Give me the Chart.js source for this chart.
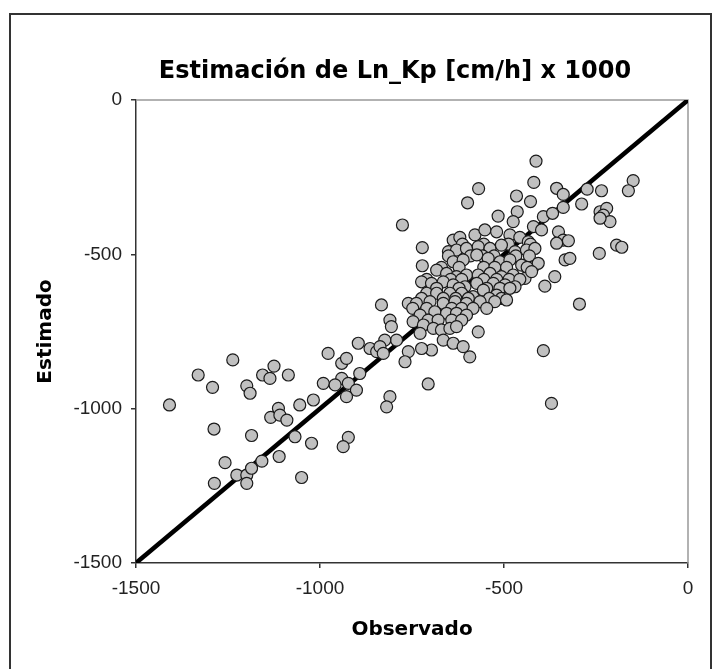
<!DOCTYPE html>
<html>
<head>
<meta charset="utf-8">
<script src="https://cdn.jsdelivr.net/npm/chart.js@4.4.1/dist/chart.umd.min.js"></script>
<style>
  html, body { margin: 0; padding: 0; background: #fff; }
  #wrap { width: 720px; height: 669px; }
</style>
</head>
<body>
<div id="wrap"><canvas id="myChart" width="720" height="669"></canvas></div>
<script>
const chartTitle = 'Estimación de Ln_Kp [cm/h] x 1000';
const xTitle = 'Observado';
const yTitle = 'Estimado';
const axisTicks = [-1500, -1000, -500, 0];

const observado = [
    -1409, -1331, -1292, -1237, -1288, -1199, -1190, -1156, -1136, -1125, -1186, -1134,
    -1113, -1109, -1090, -1258, -1226, -1199, -1186, -1158, -1287, -1199, -1111,
    -413, -419, -569, -599, -466, -428, -464, -357, -339, -274, -235, -289, -339, -149, -162,
    -776, -722, -722, -516, -475, -393, -368, -420, -398, -352, -339, -325, -357,
    -239, -221, -230, -212, -239, -241, -194, -180, -334, -321, -362, -389, -295, -393, -371,
    -638, -620, -579, -552, -520, -484, -457, -434,
    -613, -555, -488, -428,
    -651, -629, -602, -570, -538, -507, -470, -439, -416,
    -651, -591, -558, -527, -468, -431,
    -638, -611, -574, -543, -511, -484, -452, -420, -407,
    -670, -622, -555, -525, -493, -437,
    -683, -656, -629, -602, -570, -538, -507, -475, -443, -425,
    -710, -645, -615, -555, -520, -486, -457,
    -724, -697, -665, -638, -606, -574, -529, -497, -470,
    -683, -622, -547, -511, -484,
    -710, -683, -647, -615, -584, -556, -520,
    -724, -665, -631, -597, -540, -507,
    -760, -738, -701, -665, -633, -602, -565, -525, -493,
    -748, -710, -642, -615, -584, -547,
    -728, -688, -656, -629, -602,
    -706, -679, -642, -615,
    -747, -719, -692, -670, -647, -629, -570,
    -810, -806, -792, -824, -728, -665, -638, -611, -593, -697, -724, -760, -769, -833,
    -896, -864, -846, -837, -828, -978, -941, -928, -892, -941, -991, -959, -923, -901, -928,
    -706, -810, -819, -1055, -1018, -1086, -923, -937, -1023, -1068, -1050
];
const estimado = [
    -988, -891, -931, -842, -1066, -926, -950, -891, -902, -862, -1087, -1028,
    -999, -1021, -1037, -1175, -1215, -1215, -1193, -1170, -1242, -1242, -1155,
    -198, -267, -287, -333, -311, -329, -362, -286, -306, -289, -294, -337, -348, -261, -294,
    -405, -478, -537, -376, -394, -378, -367, -410, -421, -427, -454, -456, -464,
    -362, -351, -373, -394, -383, -497, -470, -477, -518, -513, -572, -603, -661, -812, -983,
    -454, -445, -437, -421, -427, -437, -445, -459,
    -467, -467, -467, -467,
    -491, -486, -481, -475, -481, -470, -491, -486, -481,
    -505, -505, -505, -505, -505, -505,
    -524, -518, -502, -513, -524, -518, -535, -540, -529,
    -542, -542, -542, -542, -542, -542,
    -551, -562, -572, -567, -567, -562, -572, -567, -578, -556,
    -581, -581, -581, -581, -581, -581, -581,
    -589, -594, -589, -599, -605, -594, -594, -599, -605,
    -610, -610, -610, -610, -610,
    -626, -626, -626, -626, -637, -616, -632,
    -643, -643, -643, -643, -643, -643,
    -659, -659, -653, -659, -653, -659, -653, -653, -648,
    -675, -675, -675, -675, -675, -675,
    -697, -686, -691, -691, -697,
    -713, -713, -713, -713,
    -718, -729, -740, -745, -740, -734, -751,
    -713, -734, -778, -778, -756, -778, -788, -799, -832, -810, -805, -815, -848, -664,
    -788, -805, -815, -799, -821, -821, -853, -837, -886, -902, -918, -923, -918, -940, -961,
    -920, -961, -994, -988, -972, -891, -1093, -1123, -1112, -1091, -1223
];
// 1:1 reference line
const lineX = [-1500, 0];
const lineY = [-1500, 0];

const points = observado.map((x, i) => ({ x: x, y: estimado[i] }));
const diagonal = lineX.map((x, i) => ({ x: x, y: lineY[i] }));

const tickFont = { family: '"Liberation Sans", Arial, sans-serif', size: 19 };
const titleFont = { family: '"DejaVu Sans", sans-serif', size: 20, weight: 'bold' };

const framePlugin = {
    id: 'frame',
    beforeDraw(chart) {
        const ctx = chart.ctx;
        ctx.save();
        ctx.fillStyle = '#fff';
        ctx.fillRect(0, 0, chart.width, chart.height);
        ctx.strokeStyle = '#333';
        ctx.lineWidth = 2;
        ctx.strokeRect(10, 14, 701, 720);
        ctx.restore();
    },
    beforeDatasetsDraw(chart) {
        const { ctx, chartArea } = chart;
        ctx.save();
        ctx.strokeStyle = '#999';
        ctx.lineWidth = 1.5;
        ctx.beginPath();
        ctx.moveTo(chartArea.left, chartArea.top);
        ctx.lineTo(chartArea.right, chartArea.top);
        ctx.lineTo(chartArea.right, chartArea.bottom);
        ctx.stroke();
        ctx.restore();
    },
    afterDraw(chart) {
        const ctx = chart.ctx;
        ctx.save();
        ctx.fillStyle = '#000';
        ctx.font = 'bold 24px "DejaVu Sans", sans-serif';
        ctx.textAlign = 'center';
        ctx.textBaseline = 'middle';
        ctx.fillText(chartTitle, 395, 72);
        ctx.restore();
    }
};

const config = {
    type: 'scatter',
    data: {
        datasets: [{
            data: points,
            backgroundColor: '#c0c0c0',
            borderColor: '#1a1a1a',
            borderWidth: 1.2,
            pointRadius: 6,
        }, {
            data: diagonal,
            showLine: true,
            borderColor: '#000',
            borderWidth: 4.5,
            pointRadius: 0,
        }]
    },
    options: {
        responsive: false,
        animation: false,
        events: [],
        layout: { padding: { top: 100, right: 32, bottom: 0, left: 0 } },
        plugins: { legend: { display: false }, tooltip: { enabled: false } },
        scales: {
            x: {
                type: 'linear',
                min: -1500,
                max: 0,
                afterFit: scale => { scale.height = 106; },
                afterBuildTicks: scale => { scale.ticks = axisTicks.map(v => ({ value: v })); },
                ticks: { font: tickFont, color: '#222', padding: 9, maxRotation: 0, callback: v => String(v) },
                grid: { drawOnChartArea: false, tickLength: 5, color: '#333', lineWidth: 1.5 },
                border: { color: '#333', width: 1.5 },
                title: { display: true, text: xTitle, font: titleFont, color: '#000', padding: { top: 0, bottom: 27 } }
            },
            y: {
                type: 'linear',
                min: -1500,
                max: 0,
                afterFit: scale => { scale.width = 136; },
                afterBuildTicks: scale => { scale.ticks = axisTicks.map(v => ({ value: v })); },
                ticks: { font: tickFont, color: '#222', padding: 9, callback: v => String(v) },
                grid: { drawOnChartArea: false, tickLength: 5, color: '#333', lineWidth: 1.5 },
                border: { color: '#333', width: 1.5 },
                title: { display: true, text: yTitle, font: titleFont, color: '#000', padding: { top: 34, bottom: 0 } }
            }
        }
    },
    plugins: [framePlugin]
};

const myChart = new Chart(document.getElementById('myChart'), config);
</script>
</body>
</html>
